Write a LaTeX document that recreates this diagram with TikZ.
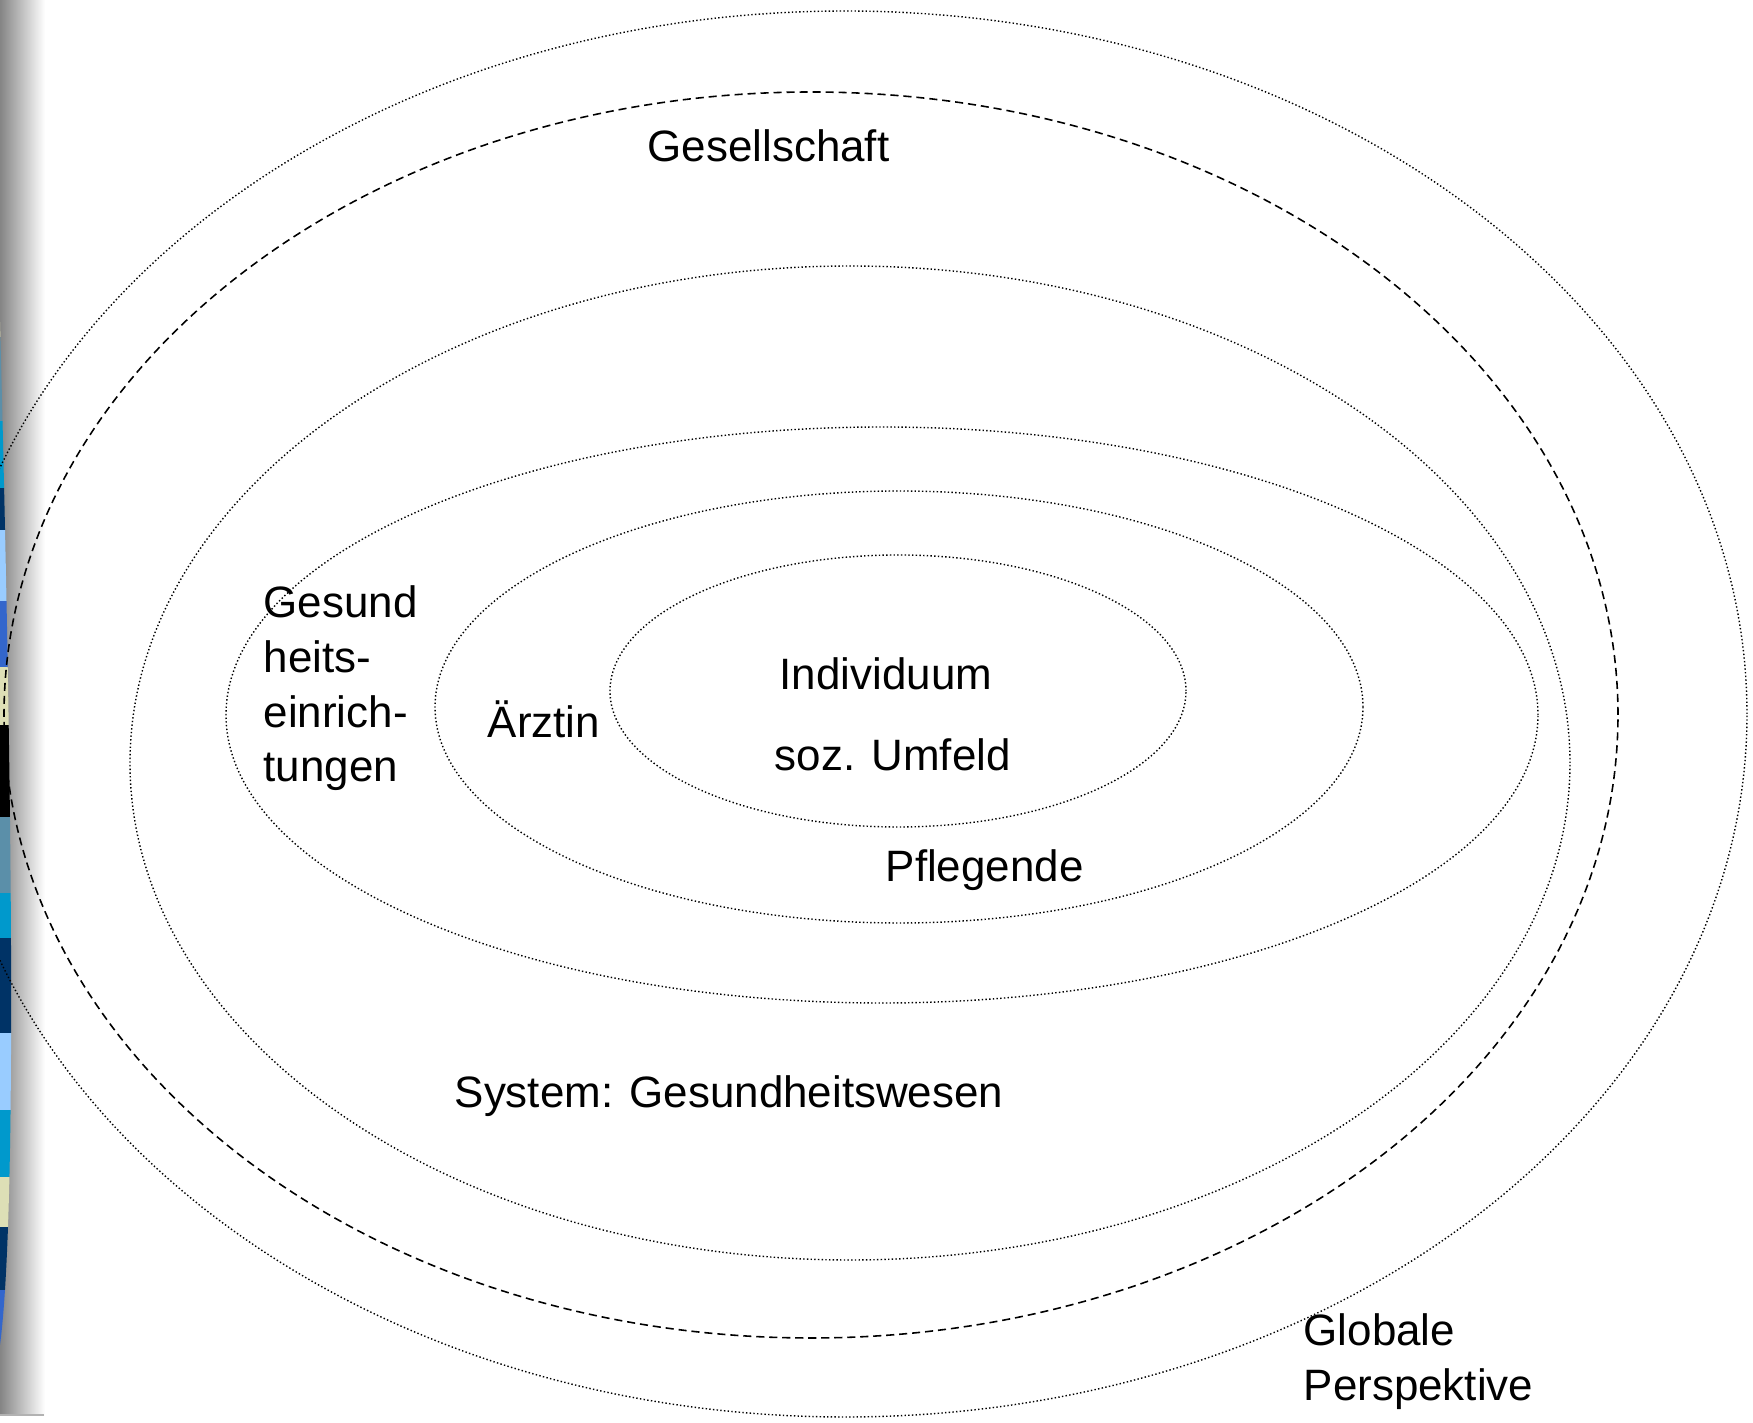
\documentclass[tikz,border=0pt]{standalone}
\usepackage{fontspec}
\setmainfont{Liberation Sans}
\definecolor{bluegrey}{HTML}{5B8FA9}
\definecolor{cyanblue}{HTML}{0099CC}
\definecolor{navy}{HTML}{003366}
\definecolor{skyblue}{HTML}{99CCFF}
\definecolor{royal}{HTML}{3366CC}
\definecolor{beige}{HTML}{DDDFB6}

\begin{document}
\begin{tikzpicture}[x=0.1mm, y=-0.1mm,
    every node/.style={font=\fontsize{12.5}{15.6}\selectfont, inner sep=0pt},
    lbl/.style={anchor=base west},
    dotring/.style={line width=0.4pt, dash pattern=on 0.4pt off 0.65pt},
    dashring/.style={line width=0.45pt, dash pattern=on 2.3pt off 1.4pt},
]
  \useasboundingbox (0,0) rectangle (1753,1423);
  \clip (0,0) rectangle (1753,1423);
  \shade[left color=black!48, right color=white] (0,0) rectangle (45,1415);
  \draw[black!30] (0,1415) -- (44,1415);
  \begin{scope}
    \clip (0,322) .. controls (10,700) and (19,1200) .. (0,1345) -- cycle;
    \foreach \ya/\yb/\c in {322/337/beige, 337/421/bluegrey, 421/488/cyanblue,
        488/530/navy, 530/601/skyblue, 601/667/royal, 667/725/beige,
        725/817/black, 817/893/bluegrey, 893/938/cyanblue, 938/1033/navy,
        1033/1110/skyblue, 1110/1177/cyanblue, 1177/1227/beige,
        1227/1290/navy, 1290/1345/royal}
      \fill[\c] (0,\ya) rectangle (20,\yb);
  \end{scope}

  \draw[dotring] (845,714) ellipse [x radius=90.2mm, y radius=70.3mm];
  \draw[dashring] (811,715) ellipse [x radius=80.7mm, y radius=62.3mm];
  \draw[dotring] (850,763) ellipse [x radius=72.0mm, y radius=49.7mm];
  \draw[dotring] (882,715) ellipse [x radius=65.6mm, y radius=28.8mm];
  \draw[dotring] (899,707) ellipse [x radius=46.4mm, y radius=21.6mm];
  \draw[dotring] (898,691) ellipse [x radius=28.8mm, y radius=13.6mm];

  \node[lbl] (gesellschaft) at (647,162) {Gesellschaft};
  \node[lbl, align=left] (einrichtungen) at (263,782) {Gesund\\heits-\\einrich-\\tungen};
  \node[lbl] (aerztin) at (487,738) {Ärztin};
  \node[lbl] (individuum) at (779,690) {Individuum};
  \node[lbl] (umfeld) at (774,771) {soz. Umfeld};
  \node[lbl] (pflegende) at (885,882) {Pflegende};
  \node[lbl] (system) at (454,1108) {System: Gesundheitswesen};
  \node[lbl, align=left] (global) at (1303,1400) {Globale\\Perspektive};
\end{tikzpicture}
\end{document}
